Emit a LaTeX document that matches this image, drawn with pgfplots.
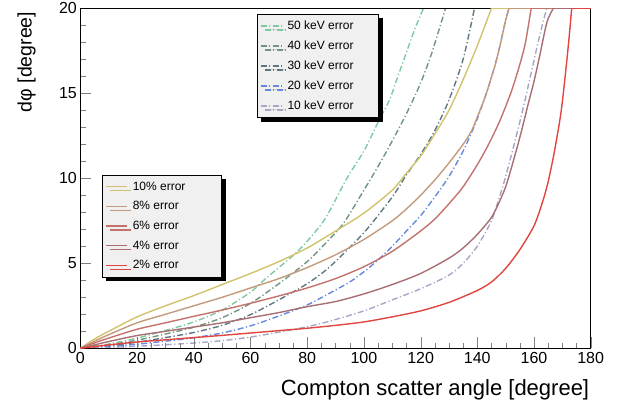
\documentclass[border=0pt]{standalone}
\usepackage{fontspec}
\setmainfont{Liberation Sans}
\usepackage{pgfplots}
\pgfplotsset{compat=1.18}
\usetikzlibrary{shadows}
\definecolor{cA}{HTML}{D1C26C}
\definecolor{cB}{HTML}{C49A7C}
\definecolor{cC}{HTML}{C4726C}
\definecolor{cD}{HTML}{A86E72}
\definecolor{cE}{HTML}{E0453F}
\definecolor{kA}{HTML}{80C8A0}
\definecolor{kB}{HTML}{6E9680}
\definecolor{kC}{HTML}{5D7882}
\definecolor{kD}{HTML}{6688DD}
\definecolor{kE}{HTML}{A6A6C8}
\definecolor{legfill}{HTML}{F0F0F0}
\newcommand{\LE}[2]{\makebox[#1][l]{#2}}
\begin{document}
\begin{tikzpicture}[x=1pt,y=1pt]
\path[use as bounding box] (0,0) rectangle (625,410);
\pgfplotsset{
  myaxis/.style={scale only axis, width=510.3pt, height=340pt,
    at={(80.4pt,61.7pt)}, anchor=south west,
    xmin=0, xmax=180, ymin=0, ymax=20},
  mylegend/.style={legend cell align=left,
    legend image code/.code={\draw[line width=1.5pt,##1] (0pt,0pt) -- (21pt,0pt);},
    legend style={draw=black, line width=0.6pt, fill=legfill,
      font=\fontsize{12}{14}\selectfont, anchor=north west,
      inner xsep=3pt, inner ysep=4.5pt, row sep=5.8pt,
      /tikz/every odd column/.append style={column sep=3pt},
      drop shadow={shadow xshift=4pt, shadow yshift=-4pt, fill=black, opacity=1}}},
  kev/.style={line width=1.4pt, dash pattern=on 6pt off 2.5pt on 1.2pt off 2.5pt},
  pct/.style={line width=1.4pt},
  crv/.style={smooth, tension=0.45, forget plot}
}
\begin{axis}[myaxis, hide axis, mylegend,
  legend style={at={(axis description cs:0.3455,0.983)}}]
\addlegendimage{kev, kA}
\addlegendentry{\LE{86pt}{50 keV error}}
\addlegendimage{kev, kB}
\addlegendentry{\LE{86pt}{40 keV error}}
\addlegendimage{kev, kC}
\addlegendentry{\LE{86pt}{30 keV error}}
\addlegendimage{kev, kD}
\addlegendentry{\LE{86pt}{20 keV error}}
\addlegendimage{kev, kE}
\addlegendentry{\LE{86pt}{10 keV error}}
\addplot[kev, kA, crv] coordinates {(0,0)(10,0.25)(20,0.6)(30,1.05)(40,1.55)(50,2.25)(60,3.3)(65,4.05)(70,4.75)(76,5.6)(80,6.3)(85,7.3)(88,8.1)(94,10.0)(100,11.6)(105,13.3)(109,14.6)(112,16.0)(115,17.4)(118,18.8)(121,20)};
\addplot[kev, kA, forget plot] coordinates {(121,20)(180,20)};
\addplot[kev, kB, crv] coordinates {(0,0)(10,0.2)(20,0.48)(30,0.84)(40,1.24)(50,1.8)(60,2.64)(70,3.8)(80,5.1)(88,6.45)(93,7.4)(100,9.3)(105,10.7)(110,12.2)(115,13.8)(120,15.6)(124,17.4)(128.8,20)};
\addplot[kev, kB, forget plot] coordinates {(128.8,20)(180,20)};
\addplot[kev, kC, crv] coordinates {(0,0)(10,0.15)(20,0.36)(30,0.63)(40,0.93)(50,1.35)(60,1.98)(70,2.85)(80,3.8)(88,4.8)(100,6.8)(110,8.9)(115,10.2)(120,11.4)(125,12.8)(130,14.6)(135,17.0)(139,20)};
\addplot[kev, kC, forget plot] coordinates {(139,20)(180,20)};
\addplot[kev, kD, crv] coordinates {(0,0)(10,0.1)(20,0.24)(30,0.42)(40,0.62)(50,0.9)(60,1.32)(70,1.9)(80,2.55)(88,3.25)(95,3.9)(100,4.5)(105,5.2)(110,6.0)(115,6.9)(120,7.8)(125,8.9)(130,10.1)(135,11.6)(138,12.7)(140,13.5)(143,14.9)(146,16.5)(148,17.8)(150,19.3)(151.2,20)};
\addplot[kev, kD, forget plot] coordinates {(151.2,20)(180,20)};
\addplot[kev, kE, crv] coordinates {(0,0)(10,0.05)(20,0.12)(30,0.21)(40,0.31)(50,0.45)(60,0.66)(70,0.95)(80,1.27)(88,1.6)(100,2.2)(110,2.85)(120,3.5)(130,4.3)(135,5.0)(140,6.0)(145,7.5)(148,9.0)(150,10.1)(153,12.0)(156,14.0)(159,16.2)(162,18.4)(164.5,20)};
\addplot[kev, kE, forget plot] coordinates {(164.5,20)(180,20)};
\end{axis}
\begin{axis}[myaxis, mylegend,
  legend style={at={(axis description cs:0.0423,0.5097)}},
  axis line style={line width=0.8pt},
  tick pos=left, tick align=inside,
  xtick={0,20,...,180}, ytick={0,5,...,20},
  minor x tick num=3, minor y tick num=4,
  major tick length=11pt, minor tick length=5.5pt,
  /pgf/number format/assume math mode=true,
  ticklabel style={font=\fontsize{16}{16}\selectfont},
  xlabel={Compton scatter angle [degree]},
  xlabel style={font=\fontsize{22}{22}\selectfont, at={(axis description cs:1,0)}, anchor=base east, yshift=-47.7pt, xshift=2pt},
  ylabel={dφ [degree]},
  ylabel style={font=\fontsize{19.5}{19.5}\selectfont, at={(axis description cs:-0.0954,1)}, anchor=base east},
]
\addlegendimage{pct, cA}
\addlegendentry{\LE{84pt}{10\% error}}
\addlegendimage{pct, cB}
\addlegendentry{\LE{84pt}{8\% error}}
\addlegendimage{pct, cC}
\addlegendentry{\LE{84pt}{6\% error}}
\addlegendimage{pct, cD}
\addlegendentry{\LE{84pt}{4\% error}}
\addlegendimage{pct, cE}
\addlegendentry{\LE{84pt}{2\% error}}
\addplot[pct, cA, crv] coordinates {(0,0)(5,0.55)(10,1.0)(20,1.85)(30,2.5)(40,3.1)(50,3.75)(60,4.4)(70,5.1)(80,5.9)(90,6.9)(100,7.95)(110,9.3)(115,10.3)(120,11.3)(125,12.6)(130,14.0)(135,15.8)(140,17.8)(145,20)};
\addplot[pct, cA, forget plot] coordinates {(145,20)(180,20)};
\addplot[pct, cB, crv] coordinates {(0,0)(5,0.42)(10,0.8)(20,1.5)(30,2.0)(40,2.5)(50,3.0)(60,3.55)(70,4.1)(80,4.75)(90,5.5)(100,6.4)(110,7.5)(115,8.2)(120,9.0)(125,9.9)(130,10.9)(135,12.0)(138,12.8)(140,13.6)(143,14.9)(146,16.5)(148,17.8)(150,19.3)(151.2,20)};
\addplot[pct, cB, forget plot] coordinates {(151.2,20)(180,20)};
\addplot[pct, cC, crv] coordinates {(0,0)(5,0.32)(10,0.6)(20,1.12)(30,1.5)(40,1.88)(50,2.25)(60,2.65)(70,3.08)(80,3.55)(90,4.1)(100,4.8)(110,5.7)(120,6.9)(125,7.6)(130,8.5)(135,9.5)(140,10.8)(144,12.0)(148,13.4)(152,15.1)(155,16.7)(157,18.0)(159,20)};
\addplot[pct, cC, forget plot] coordinates {(159,20)(180,20)};
\addplot[pct, cD, crv] coordinates {(0,0)(5,0.2)(10,0.4)(20,0.75)(30,1.0)(40,1.25)(50,1.5)(60,1.8)(70,2.1)(80,2.45)(90,2.75)(100,3.2)(110,3.75)(120,4.4)(130,5.3)(135,5.9)(140,6.7)(145,7.7)(148,8.7)(150,9.5)(152,10.6)(155,12.4)(158,14.4)(160,15.7)(162,17.2)(164,18.8)(165,19.4)(166.8,20)};
\addplot[pct, cD, forget plot] coordinates {(166.8,20)(180,20)};
\addplot[pct, cE, crv] coordinates {(0,0)(5,0.1)(10,0.2)(20,0.37)(30,0.5)(40,0.63)(50,0.76)(60,0.9)(70,1.04)(80,1.18)(90,1.35)(100,1.55)(110,1.85)(120,2.2)(130,2.7)(140,3.4)(145,3.9)(150,4.7)(155,5.8)(160,7.2)(163,8.6)(165,9.8)(167,11.4)(169,13.3)(170,14.5)(171.5,16.8)(172.5,18.5)(173.3,20)};
\addplot[pct, cE, forget plot] coordinates {(173.3,20)(180,20)};
\end{axis}
\end{tikzpicture}
\end{document}
